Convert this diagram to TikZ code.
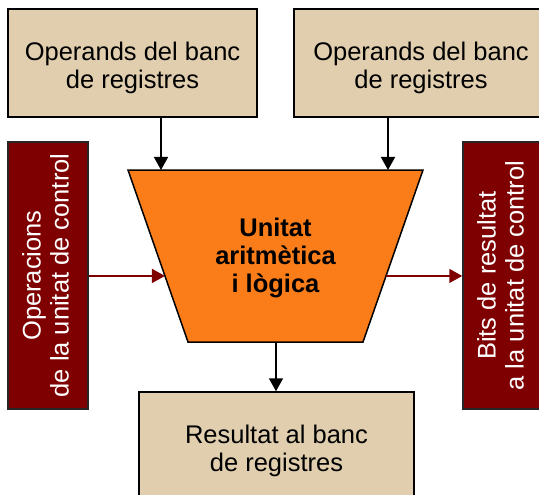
\documentclass[tikz,border=0pt]{standalone}
\usepackage{fontspec}
\setmainfont{Liberation Sans}
\usepackage{xcolor}
\usetikzlibrary{arrows.meta, calc}

\definecolor{tanbox}{HTML}{E0CEAE}
\definecolor{ctrlred}{HTML}{7F0000}
\definecolor{aluorange}{HTML}{FA7D19}

\begin{document}
\begin{tikzpicture}[
    x=1pt, y=-1pt,
    regbox/.style={rectangle, draw=black, line width=1.5pt, fill=tanbox, inner sep=0pt, text height=56.5pt, align=center, font=\fontsize{25.5}{28}\selectfont},
    ctrlbox/.style={rectangle, draw=black!85, line width=1.5pt, fill=ctrlred, text=white, inner sep=0pt, text height=41.5pt, align=center, rotate=90, font=\fontsize{25.5}{28}\selectfont},
    dataarrow/.style={-{Triangle[length=13pt,width=14pt]}, line width=1.5pt},
    ctrlarrow/.style={dataarrow, draw=ctrlred, fill=ctrlred}
]
\useasboundingbox (0,0) rectangle (539,495);

% Register file operands
\node[regbox, minimum width=249pt, minimum height=108pt] (opa) at (132.5,63) {Operands del banc\\de registres};
\node[regbox, minimum width=254pt, minimum height=108pt] (opb) at (421,63) {Operands del banc\\de registres};

% Control unit boxes
\node[ctrlbox, minimum width=267pt, minimum height=80pt] (ops) at (48,275.5) {Operacions\\de la unitat de control};
\node[ctrlbox, minimum width=267pt, minimum height=80pt] (bits) at (503,275.5) {Bits de resultat\\a la unitat de control};

% ALU
\coordinate (tl) at (128,170);
\coordinate (tr) at (423,170);
\coordinate (br) at (363,342);
\coordinate (bl) at (188,342);
\draw[line width=1.5pt, fill=aluorange] (tl) -- (tr) -- (br) -- (bl) -- cycle;
\node[align=center, font=\bfseries\fontsize{25.5}{28}\selectfont] (alu) at (275.5,258) {Unitat\\aritmètica\\i lògica};

% Result
\node[regbox, minimum width=275pt, minimum height=108pt] (res) at (276.5,446) {Resultat al banc\\de registres};

% Ports on the ALU
\coordinate (inA) at (161,170);
\coordinate (inB) at (388,170);
\coordinate (inOp) at ($(tl)!0.616!(bl)$);
\coordinate (outBits) at ($(tr)!0.616!(br)$);
\coordinate (outRes) at (276,342);

% Arrows
\draw[dataarrow] (opa.south -| inA) -- (inA);
\draw[dataarrow] (opb.south -| inB) -- (inB);
\draw[ctrlarrow] (ops.south |- inOp) -- (inOp);
\draw[ctrlarrow] (outBits) -- (bits.north |- outBits);
\draw[dataarrow] (outRes) -- (res.north -| outRes);

\end{tikzpicture}
\end{document}
